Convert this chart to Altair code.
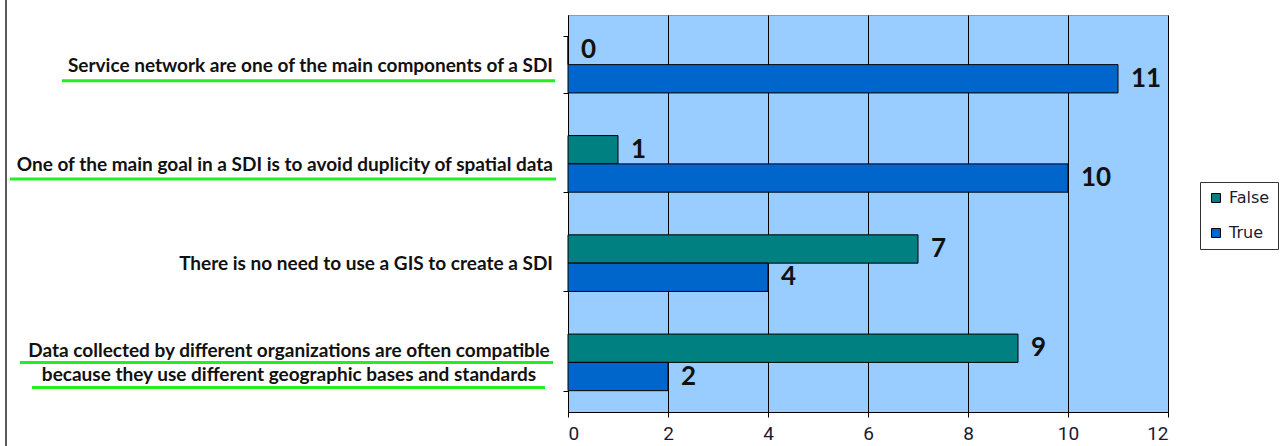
import altair as alt
import pandas as pd

categories = [
    "Service network are one of the main components of a SDI",
    "One of the main goal in a SDI is to avoid duplicity of spatial data",
    "There is no need to use a GIS to create a SDI",
    "Data collected by different organizations are often compatible|because they use different geographic bases and standards",
]
series = ["False", "True"]
false_vals = [0, 1, 7, 9]
true_vals = [11, 10, 4, 2]
x_ticks = [0, 2, 4, 6, 8, 10, 12]

rows = []
for c, f, t in zip(categories, false_vals, true_vals):
    rows.append({"q": c, "s": "False", "v": f})
    rows.append({"q": c, "s": "True", "v": t})
df = pd.DataFrame(rows)

y_enc = alt.Y("q:N", sort=categories,
              scale=alt.Scale(paddingInner=0.43, paddingOuter=0.215),
              axis=alt.Axis(title=None, tickBand="extent", tickSize=5, labels=False,
                            domainColor="black", tickColor="black", grid=False))
x_enc = alt.X("v:Q", scale=alt.Scale(domain=[0, 12], nice=False),
              axis=alt.Axis(title=None, values=x_ticks, grid=True, gridColor="black",
                            gridOpacity=1, domainColor="black", tickColor="black",
                            tickSize=5, labelFontSize=19, labelFont="Roboto",
                            labelColor="#1a1a33", labelPadding=7))

base = alt.Chart(df)
bars = base.mark_bar(stroke="black", strokeWidth=1).encode(
    x=x_enc,
    y=y_enc,
    yOffset=alt.YOffset("s:N", sort=series),
    color=alt.Color("s:N", scale=alt.Scale(domain=series, range=["#008080", "#0066CC"]),
                    legend=alt.Legend(title=None, orient="none", legendX=632, legendY=167,
                                      symbolType="square", symbolSize=80,
                                      symbolStrokeColor="black", symbolStrokeWidth=1,
                                      labelFontSize=16, labelFont="DejaVu Sans",
                                      labelColor="#1a1a33", rowPadding=19, padding=8,
                                      strokeColor="#333", labelOffset=5)),
)
labels = base.mark_text(align="left", baseline="middle", dx=13, fontSize=26,
                        fontWeight="bold", font="Lato", color="#111").encode(
    x="v:Q",
    y=alt.Y("q:N", sort=categories),
    yOffset=alt.YOffset("s:N", sort=series),
    text="v:Q",
)

cat_df = pd.DataFrame({"q": categories})
is_long = cat_df["q"].str.contains("|", regex=False)


def cat_labels(data, dy, align, x):
    return alt.Chart(data).mark_text(
        align=align, baseline="middle", font="Lato", fontWeight="bold",
        fontSize=19, color="#111", lineBreak="|", lineHeight=24, dy=dy,
    ).encode(y=alt.Y("q:N", sort=categories), x=alt.value(x), text="q:N")


short_labels = cat_labels(cat_df[~is_long], 1, "right", -15)
long_labels = cat_labels(cat_df[is_long], -11, "center", -279)


def underline(cat, dy, x1, x2):
    d = pd.DataFrame({"q": [cat]})
    return alt.Chart(d).mark_rule(color="#22EE22", strokeWidth=3, yOffset=dy).encode(
        y=alt.Y("q:N", sort=categories),
        x=alt.value(x1), x2=alt.value(x2),
    )


lines = [
    underline(categories[0], 16, -506, -13),
    underline(categories[1], 15, -558, -12),
    underline(categories[3], 0, -548, -15),
    underline(categories[3], 25, -536, -23),
]

frame = alt.Chart(pd.DataFrame({"q": [categories[0]]})).mark_rule(
    color="#222", strokeWidth=1.5).encode(
    x=alt.value(-562), y=alt.value(-15), y2=alt.value(431))

chart = alt.layer(bars, labels, short_labels, long_labels, *lines, frame).properties(
    width=600, height=397,
    autosize=alt.AutoSizeParams(type="none"),
    padding={"left": 568, "top": 15, "right": 113, "bottom": 34},
).configure_view(fill="#99CCFF", stroke="#999999", strokeWidth=1)

chart.save("out.html", embed_options={"renderer": "svg", "actions": False})
